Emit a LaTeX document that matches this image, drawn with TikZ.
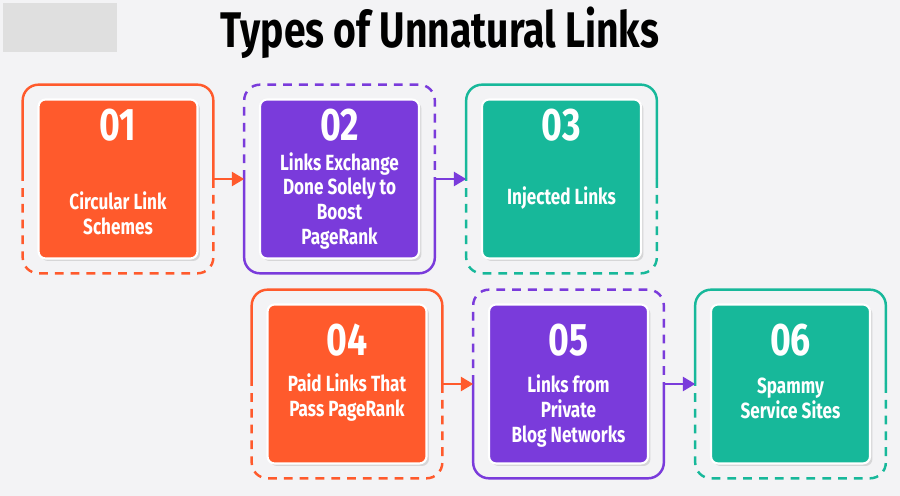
\documentclass[tikz,border=0pt]{standalone}
\usepackage{fontspec}
\setmainfont{Fira Sans}[FakeStretch=0.78]
\usetikzlibrary{arrows.meta, shadows}
\definecolor{corange}{HTML}{FF5A2C}
\definecolor{cpurple}{HTML}{7A3BDB}
\definecolor{cteal}{HTML}{17B89A}
\definecolor{cbg}{HTML}{F3F3F5}

\begin{document}
\begin{tikzpicture}[x=0.02cm, y=-0.02cm,
    card/.style={draw=white, line width=1.2pt, rounded corners=4pt, minimum width=3.18cm, minimum height=3.18cm,
        drop shadow={opacity=0.25, shadow xshift=0.5mm, shadow yshift=-0.5mm}},
    frame/.style={minimum width=3.8cm, minimum height=3.76cm, inner sep=0pt},
    num/.style={text=white, font=\bfseries\fontsize{26}{28}\selectfont},
    label/.style={text=white, font=\bfseries\fontsize{12.5}{14.2}\selectfont, align=center},
    solidline/.style={line width=1.4pt, rounded corners=9pt},
    dashline/.style={line width=1.4pt, rounded corners=9pt, dash pattern=on 5pt off 4pt},
    tip/.style={line width=1.4pt, -{Triangle[length=7pt, width=8pt]}}]
\fill[cbg] (0,0) rectangle (900,496);
\fill[gray!25] (3,3) rectangle (117,52);
\node[font=\bfseries\fontsize{28.5}{30}\selectfont] (title) at (440,33) {Types of Unnatural Links};

% frames
\node[frame] (f1) at (118,179) {};
\node[frame] (f2) at (339.5,179) {};
\node[frame] (f3) at (561.5,179) {};
\node[frame] (f4) at (347,384) {};
\node[frame] (f5) at (568.5,384) {};
\node[frame] (f6) at (790.5,384) {};

% cards
\node[card, fill=corange] (b1) at (f1) {};
\node[card, fill=cpurple] (b2) at (f2) {};
\node[card, fill=cteal] (b3) at (f3) {};
\node[card, fill=corange] (b4) at (f4) {};
\node[card, fill=cpurple] (b5) at (f5) {};
\node[card, fill=cteal] (b6) at (f6) {};

% numbers
\node[num] (n1) at ([yshift=-0.54cm]b1.north) {01};
\node[num] (n2) at ([yshift=-0.54cm]b2.north) {02};
\node[num] (n3) at ([yshift=-0.54cm]b3.north) {03};
\node[num] (n4) at ([yshift=-0.74cm]b4.north) {04};
\node[num] (n5) at ([yshift=-0.74cm]b5.north) {05};
\node[num] (n6) at ([yshift=-0.74cm]b6.north) {06};

% texts
\node[label] (t1) at (118,213) {Circular Link\\Schemes};
\node[label] (t2) at (339.5,201) {Links Exchange\\Done Solely to\\Boost\\PageRank};
\node[label] (t3) at (561.5,198) {Injected Links};
\node[label] (t4) at (347,398) {Paid Links That\\Pass PageRank};
\node[label] (t5) at (568.5,411) {Links from\\Private\\Blog Networks};
\node[label] (t6) at (790.5,398) {Spammy\\Service Sites};

% frame lines
\draw[solidline, corange] (f1.west) -- (f1.north west) -- (f1.north east) -- (f1.east);
\draw[dashline, corange] (f1.east) -- (f1.south east) -- (f1.south west) -- (f1.west);
\draw[dashline, cpurple] (f2.west) -- (f2.north west) -- (f2.north east) -- (f2.east);
\draw[solidline, cpurple] (f2.east) -- (f2.south east) -- (f2.south west) -- (f2.west);
\draw[solidline, cteal] (f3.west) -- (f3.north west) -- (f3.north east) -- (f3.east);
\draw[dashline, cteal] (f3.east) -- (f3.south east) -- (f3.south west) -- (f3.west);
\draw[solidline, corange] (f4.west) -- (f4.north west) -- (f4.north east) -- (f4.east);
\draw[dashline, corange] (f4.east) -- (f4.south east) -- (f4.south west) -- (f4.west);
\draw[dashline, cpurple] (f5.west) -- (f5.north west) -- (f5.north east) -- (f5.east);
\draw[solidline, cpurple] (f5.east) -- (f5.south east) -- (f5.south west) -- (f5.west);
\draw[solidline, cteal] (f6.west) -- (f6.north west) -- (f6.north east) -- (f6.east);
\draw[dashline, cteal] (f6.east) -- (f6.south east) -- (f6.south west) -- (f6.west);

% arrows
\draw[tip, corange] (f1.east) -- (f2.west);
\draw[tip, cpurple] (f2.east) -- (f3.west);
\draw[tip, corange] (f4.east) -- (f5.west);
\draw[tip, cpurple] (f5.east) -- (f6.west);
\end{tikzpicture}
\end{document}
